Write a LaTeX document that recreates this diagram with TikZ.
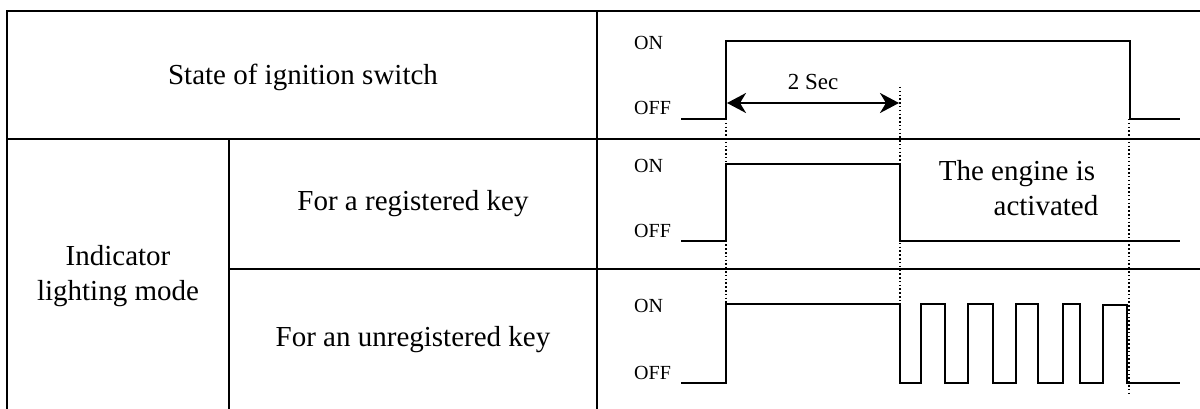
\documentclass[tikz,border=0pt]{standalone}
\usepackage{fontspec}
\setmainfont{Liberation Serif}
\usetikzlibrary{arrows.meta}
\begin{document}
\begin{tikzpicture}[x=1pt,y=-1pt,
  grid/.style={line width=2.6pt},
  wave/.style={line width=2.4pt, line join=miter},
  guide/.style={line width=1.7pt, dash pattern=on 1.5pt off 2.3pt},
  big/.style={font=\fontsize{29}{35}\selectfont, inner sep=0pt, align=center},
  lvl/.style={font=\fontsize{20}{22}\selectfont, inner sep=0pt},
  dim/.style={line width=2.4pt, {Stealth[length=19pt,width=20pt,inset=6pt]}-{Stealth[length=19pt,width=20pt,inset=6pt]}}]
\useasboundingbox (0,0) rectangle (1200,409);

% table grid
\draw[grid] (7,409) -- (7,11) -- (1201,11);
\draw[grid] (7,139) -- (1201,139);
\draw[grid] (229,269) -- (1201,269);
\draw[grid] (597,11) -- (597,409);
\draw[grid] (229,139) -- (229,409);

% labels
\node[big] (ign) at (303,77) {State of ignition switch};
\node[big] (mode) at (118,276) {Indicator\\lighting mode};
\node[big] (reg) at (413,204) {For a registered key};
\node[big] (unreg) at (413,340) {For an unregistered key};

% level labels
\node[lvl, anchor=west] (on1) at (634,43) {ON};
\node[lvl, anchor=base west] (off1) at (634,115) {OFF};
\node[lvl, anchor=west] (on2) at (634,166) {ON};
\node[lvl, anchor=base west] (off2) at (634,237) {OFF};
\node[lvl, anchor=west] (on3) at (634,306) {ON};
\node[lvl, anchor=base west] (off3) at (634,379) {OFF};

% guides
\coordinate (g1a) at (726,119); \coordinate (g1b) at (726,304);
\coordinate (g2a) at (900,87);  \coordinate (g2b) at (900,304);
\coordinate (g3a) at (1129,119); \coordinate (g3b) at (1129,395);
\draw[guide] (g1a) -- (g1b);
\draw[guide] (g2a) -- (g2b);
\draw[guide] (g3a) -- (g3b);

% waveforms
\draw[wave] (681,119) -- (726,119) -- (726,41) -- (1130,41) -- (1130,119) -- (1180,119);
\draw[wave] (681,241) -- (726,241) -- (726,164) -- (900,164) -- (900,241) -- (1180,241);
\draw[wave] (681,383) -- (726,383) -- (726,304) -- (900,304) -- (900,383)
  -- (921,383) -- (921,304) -- (945,304) -- (945,383)
  -- (968,383) -- (968,304) -- (993,304) -- (993,383)
  -- (1016,383) -- (1016,304) -- (1038,304) -- (1038,383)
  -- (1063,383) -- (1063,304) -- (1080,304) -- (1080,383)
  -- (1103,383) -- (1103,305) -- (1127,305) -- (1127,383) -- (1180,383);

% 2 sec dimension
\coordinate (d1) at (727,103); \coordinate (d2) at (899,103);
\draw[dim] (d1) -- (d2);
\node[font=\fontsize{23}{26}\selectfont, inner sep=0pt] (sec) at (813,82) {2 Sec};

% engine note
\node[big, anchor=base] (eng1) at (1017,180) {The engine is};
\node[big, anchor=base] (eng2) at (1046,215) {activated};
\end{tikzpicture}
\end{document}
